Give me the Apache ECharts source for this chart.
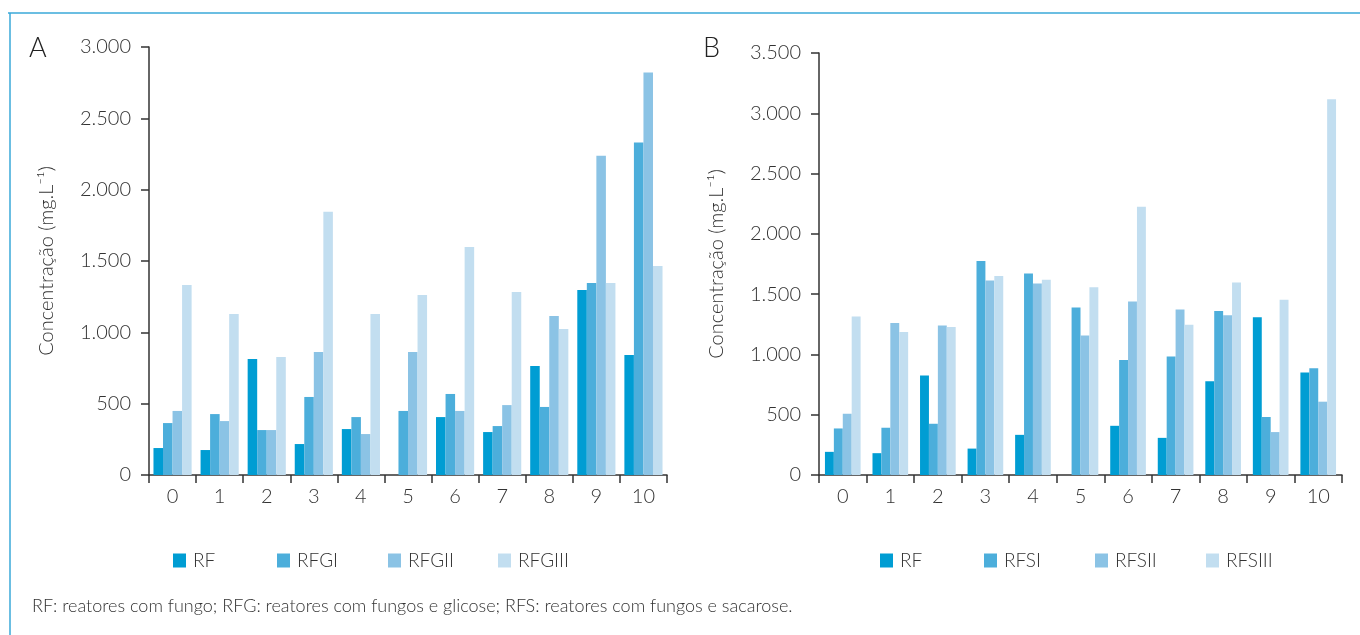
<!DOCTYPE html>
<html>
<head>
<meta charset="utf-8">
<script src="https://cdn.jsdelivr.net/npm/echarts@6/dist/echarts.min.js"></script>
<style>
  html, body { margin: 0; padding: 0; background: #fff; }
  #chart { width: 1360px; height: 635px; }
</style>
</head>
<body>
<div id="chart"></div>
<script>
// dados
var categorias = ['0', '1', '2', '3', '4', '5', '6', '7', '8', '9', '10'];

// painel A - glicose
var rfA    = [189, 175, 813, 217, 322, 0, 406, 301, 764, 1296, 841];
var rfgI   = [364, 427, 315, 547, 406, 449, 568, 343, 477, 1346, 2330];
var rfgII  = [449, 378, 315, 862, 287, 862, 449, 490, 1114, 2238, 2821];
var rfgIII = [1332, 1128, 827, 1845, 1128, 1261, 1598, 1282, 1023, 1346, 1465];

// painel B - sacarose
var rfB    = [192, 181, 825, 219, 333, 0, 408, 308, 778, 1308, 850];
var rfsI   = [386, 392, 425, 1775, 1672, 1389, 953, 983, 1361, 481, 886];
var rfsII  = [508, 1261, 1239, 1614, 1589, 1156, 1439, 1372, 1325, 356, 608];
var rfsIII = [1314, 1186, 1228, 1650, 1620, 1558, 2225, 1247, 1597, 1453, 3117];

var nomesA = ['RF', 'RFGI', 'RFGII', 'RFGIII'];
var nomesB = ['RF', 'RFSI', 'RFSII', 'RFSIII'];

var cores = ['#009dd3', '#4caedb', '#8bc3e5', '#c2def0'];
var fonte = 'Lato, "Open Sans", sans-serif';
var peso = 300;
var corTexto = '#333';

var chart = echarts.init(document.getElementById('chart'));

function fmt(v) {
    return String(v).replace(/\B(?=(\d{3})+(?!\d))/g, '.');
}

function eixoX(gi) {
    return {
        type: 'category',
        gridIndex: gi,
        data: categorias,
        axisLine: {lineStyle: {color: '#333', width: 1.5}},
        axisTick: {show: true, length: 8, lineStyle: {color: '#333', width: 1.5}},
        axisLabel: {color: corTexto, fontSize: 20, fontFamily: fonte, fontWeight: peso, margin: 12},
        splitLine: {show: false}
    };
}

function eixoY(gi, max) {
    return {
        type: 'value',
        gridIndex: gi,
        min: 0,
        max: max,
        interval: 500,
        name: 'Concentração (mg.L⁻¹)',
        nameLocation: 'middle',
        nameGap: 92,
        nameTextStyle: {color: corTexto, fontSize: 20, fontFamily: fonte, fontWeight: peso},
        axisLine: {show: true, lineStyle: {color: '#333', width: 1.5}},
        axisTick: {show: true, length: 8, lineStyle: {color: '#333', width: 1.5}},
        axisLabel: {color: corTexto, fontSize: 20, fontFamily: fonte, fontWeight: peso, margin: 18, formatter: fmt},
        splitLine: {show: false}
    };
}

function serie(nome, dados, idx, cor, gap) {
    return {
        name: nome,
        type: 'bar',
        xAxisIndex: idx,
        yAxisIndex: idx,
        data: dados,
        barGap: '0%',
        barCategoryGap: gap,
        itemStyle: {color: cor},
        emphasis: {disabled: true}
    };
}

// uma legenda por item para manter o espaçamento fixo
function legendas(lefts, nomes) {
    return nomes.map(function (n, i) {
        return {
            left: lefts[i],
            top: 551,
            padding: 0,
            itemWidth: 13,
            itemHeight: 14,
            itemGap: 0,
            icon: 'rect',
            data: [n],
            textStyle: {color: corTexto, fontSize: 19, fontFamily: fonte, fontWeight: peso, padding: [0, 0, 0, 2]}
        };
    });
}

chart.setOption({
    animation: false,
    grid: [
        {left: 149, right: 693, top: 47, bottom: 160},
        {left: 819, right: 18, top: 53, bottom: 160}
    ],
    xAxis: [eixoX(0), eixoX(1)],
    yAxis: [eixoY(0, 3000), eixoY(1, 3500)],
    legend: legendas([173, 277, 388, 498], nomesA).concat(legendas([880, 984, 1095, 1206], nomesB)),
    series: [
        serie(nomesA[0], rfA, 0, cores[0], '19%'),
        serie(nomesA[1], rfgI, 0, cores[1], '19%'),
        serie(nomesA[2], rfgII, 0, cores[2], '19%'),
        serie(nomesA[3], rfgIII, 0, cores[3], '19%'),
        serie(nomesB[0], rfB, 1, cores[0], '25%'),
        serie(nomesB[1], rfsI, 1, cores[1], '25%'),
        serie(nomesB[2], rfsII, 1, cores[2], '25%'),
        serie(nomesB[3], rfsIII, 1, cores[3], '25%')
    ],
    graphic: [
        {type: 'line', shape: {x1: 8, y1: 13, x2: 1360, y2: 13}, style: {stroke: '#3aa8d8', lineWidth: 1.5}},
        {type: 'line', shape: {x1: 10, y1: 13, x2: 10, y2: 635}, style: {stroke: '#3aa8d8', lineWidth: 1.5}},
        {type: 'text', left: 29, top: 35, style: {text: 'A', fontSize: 27, fontFamily: fonte, fontWeight: peso, fill: '#222'}},
        {type: 'text', left: 703, top: 35, style: {text: 'B', fontSize: 27, fontFamily: fonte, fontWeight: peso, fill: '#222'}},
        {type: 'text', left: 32, top: 597, style: {
            text: 'RF: reatores com fungo; RFG: reatores com fungos e glicose; RFS: reatores com fungos e sacarose.',
            fontSize: 18, fontFamily: fonte, fontWeight: peso, fill: corTexto}}
    ]
});
</script>
</body>
</html>
